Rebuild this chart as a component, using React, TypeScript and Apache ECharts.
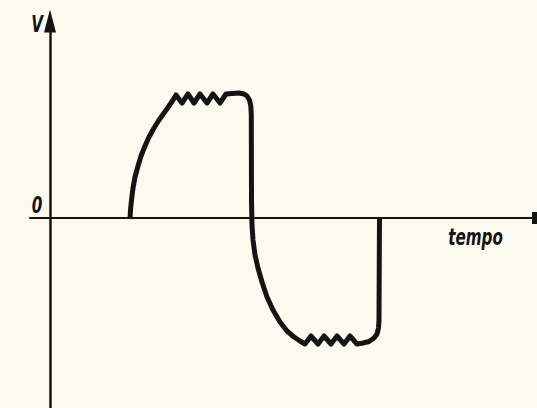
import React, { useEffect, useRef } from "react";
import * as echarts from "echarts";

// Waveform, in axis units (x: time, y: voltage)
const rise: [number, number][] = [
  [80, -1], [80.5, 8], [81.5, 18], [83, 30], [85, 41], [88, 52], [91, 62], [95, 72],
  [99, 81], [104, 90], [109, 98], [114, 105], [119, 112], [123, 118], [126, 123],
];
const topRipple: [number, number][] = [
  [132, 115], [138, 124], [144, 115], [150, 124], [157, 115], [163, 124], [170, 115], [176, 124],
];
const topCorner: [number, number][] = [
  [182, 124.5], [189, 125], [194, 124], [197, 122], [199.5, 118], [200.8, 112], [201.3, 104],
];
const fall: [number, number][] = [
  [201.5, 18], [202, -7], [203, -22], [205, -37], [208, -50], [212, -64], [217, -79],
  [223, -92], [230, -104], [237, -113], [244, -119], [250, -123],
];
const bottomRipple: [number, number][] = [
  [255, -126], [261, -118], [268, -126], [274, -118], [281, -126], [287, -118], [294, -126], [300, -118], [307, -126],
];
const bottomCorner: [number, number][] = [
  [313, -125], [319, -123.5], [324, -120], [327, -116], [328.5, -110], [329, -102], [329.5, 1],
];

const xRange = [-20, 487];
const yRange = [-190, 197];
const yLabel = "V";
const zeroLabel = "0";
const xLabel = "tempo";

export default function App() {
  const ref = useRef<HTMLDivElement>(null);
  useEffect(() => {
    if (!ref.current) return;
    const chart = echarts.init(ref.current, null, { renderer: "svg" });
    const ink = "#141414";
    const font = {
      fontFamily: "DejaVu Sans",
      fontWeight: "bold" as const,
      fontStyle: "italic" as const,
      fontSize: 23,
      fill: ink,
    };
    const waveform = [...rise, ...topRipple, ...topCorner, ...fall, ...bottomRipple, ...bottomCorner];
    chart.setOption({
      animation: false,
      backgroundColor: "#fcf9ee",
      grid: { left: 30, right: 0, top: 21, bottom: 0, containLabel: false },
      xAxis: {
        type: "value",
        min: xRange[0],
        max: xRange[1],
        axisLine: {
          show: true,
          onZero: true,
          symbol: ["none", "rect"],
          symbolSize: [12, 10],
          lineStyle: { color: ink, width: 2.2 },
        },
        axisTick: { show: false },
        axisLabel: { show: false },
        splitLine: { show: false },
      },
      yAxis: {
        type: "value",
        min: yRange[0],
        max: yRange[1],
        axisLine: {
          show: true,
          onZero: true,
          symbol: ["none", "triangle"],
          symbolSize: [12, 23],
          lineStyle: { color: ink, width: 2.5 },
        },
        axisTick: { show: false },
        axisLabel: { show: false },
        splitLine: { show: false },
      },
      series: [
        {
          type: "line",
          data: waveform,
          showSymbol: false,
          smooth: false,
          lineStyle: { color: ink, width: 5, join: "round", cap: "butt" },
          z: 5,
        },
      ],
      graphic: [
        { type: "text", x: 37, y: 24, scaleX: 0.66, style: { ...font, text: yLabel, align: "center", verticalAlign: "middle" } },
        { type: "text", x: 37, y: 205, scaleX: 0.66, style: { ...font, text: zeroLabel, align: "center", verticalAlign: "middle" } },
        { type: "text", x: 475.5, y: 237.5, scaleX: 0.66, style: { ...font, text: xLabel, align: "center", verticalAlign: "middle" } },
      ],
    });
    return () => chart.dispose();
  }, []);
  return (
    <div
      ref={ref}
      style={{ position: "fixed", left: 0, top: 0, width: 537, height: 408, background: "#fcf9ee" }}
    />
  );
}
